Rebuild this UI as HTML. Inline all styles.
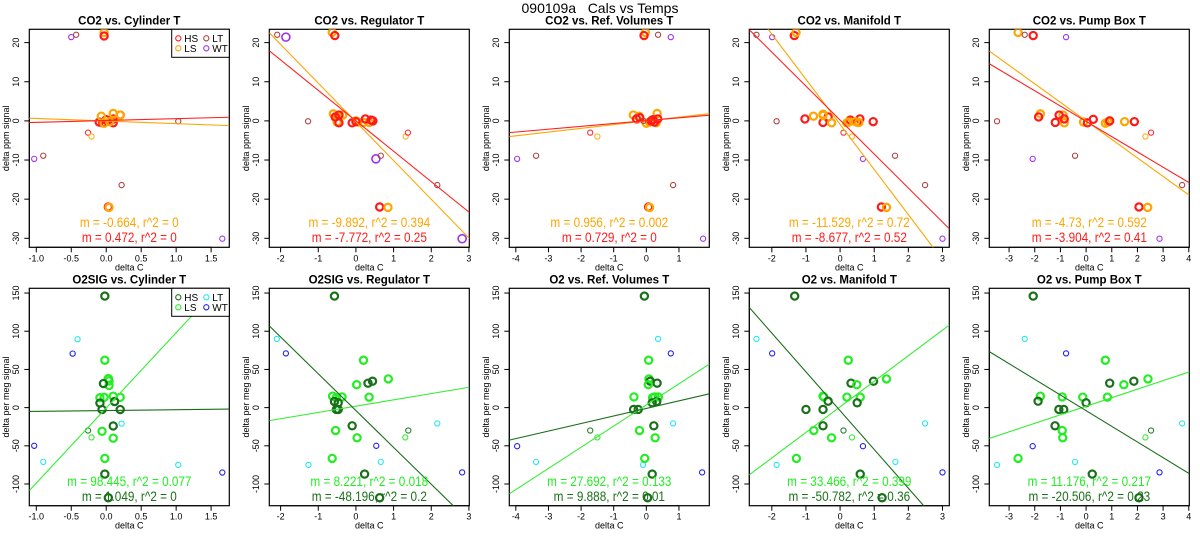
<!DOCTYPE html>
<html><head><meta charset="utf-8"><style>
html,body{margin:0;padding:0;background:#fff}
svg{display:block;font-family:"Liberation Sans",Arial,sans-serif}
</style></head><body>
<svg id="chart" width="1200" height="550" viewBox="0 0 1200 550">
<text x="600" y="13" text-anchor="middle" font-size="14" style="white-space:pre">090109a   Cals vs Temps</text>
</svg>
<script>
// ---- data: [deltaC, signal, group]
const co2Cyl = [[-0.5,21.4,'WT'],[-0.43,22,'LT'],[-0.03,22.6,'LS'],[-0.03,21.7,'HS'],[-0.1,-0.3,'HS'],[0,0.3,'HS'],[0.1,-0.5,'HS'],[0.2,1.5,'HS'],[0.1,0.5,'HS'],[-0.05,-0.5,'HS'],[-0.07,1.2,'LS'],[0.1,1.9,'LS'],[0.2,1.5,'LS'],[0.05,-0.2,'LS'],[-0.03,-0.6,'LS'],[1.03,-0.1,'LT'],[-0.26,-3,'HSs'],[-0.21,-4,'LSs'],[-0.9,-8.9,'LT'],[-1.03,-9.7,'WT'],[0.22,-16.4,'LT'],[0.03,-22,'HS'],[0.04,-22.1,'LS'],[1.66,-30.1,'WT']];
const co2Reg = [[-2.09,22,'LT'],[-1.86,21.4,'WTb'],[-0.63,22.6,'LS'],[-0.56,21.8,'HS'],[-1.27,-0.1,'LT'],[-0.6,1.8,'LS'],[-0.5,1.2,'LS'],[-0.35,1.5,'LS'],[-0.5,-0.3,'LS'],[0.05,-0.3,'LS'],[0.2,-0.4,'LS'],[0.35,-0.4,'LS'],[0,0,'LS'],[-0.55,1,'HS'],[-0.45,1.5,'HS'],[-0.45,-0.5,'HS'],[-0.1,-0.5,'HS'],[0.25,0.5,'HS'],[0.4,0.2,'HS'],[0.45,0,'HS'],[0,-0.2,'HS'],[1.32,-4,'LSs'],[1.38,-3,'HSs'],[0.53,-9.7,'WTb'],[0.66,-8.9,'LT'],[2.16,-16.4,'LT'],[0.63,-22,'HS'],[0.85,-22.1,'LS'],[2.82,-30.1,'WTb']];
const co2Ref = [[-0.03,22.6,'LS'],[-0.07,21.8,'HS'],[0.36,22,'LT'],[0.75,21.4,'WT'],[-0.4,1.5,'LS'],[-0.22,1.2,'LS'],[0.33,1.9,'LS'],[0.1,-0.3,'LS'],[0.3,-0.5,'LS'],[0,-0.6,'LS'],[-0.3,0.5,'HS'],[-0.2,0.8,'HS'],[0.15,0,'HS'],[0.2,0.3,'HS'],[0.35,0.5,'HS'],[0.25,-0.3,'HS'],[-0.09,0,'LT'],[-1.72,-3,'HSs'],[-1.5,-4,'LSs'],[-3.96,-9.7,'WT'],[-3.38,-8.9,'LT'],[0.82,-16.4,'LT'],[0.07,-22,'HS'],[0.1,-22.1,'LS'],[1.74,-30.1,'WT']];
const co2Man = [[-2.45,22,'LT'],[-1.99,21.4,'WT'],[-1.34,21.8,'HS'],[-1.29,22.6,'LS'],[-1.86,-0.1,'LT'],[-1.03,0.5,'HS'],[-0.5,-0.4,'HS'],[-0.35,1,'HS'],[0.3,0.2,'HS'],[0.5,-0.3,'HS'],[0.58,0.5,'HS'],[0.97,-0.2,'HS'],[-0.78,1.2,'LS'],[-0.5,1.7,'LS'],[-0.5,1.4,'LS'],[-0.25,-0.5,'LS'],[0.2,-0.5,'LS'],[0.25,-0.3,'LS'],[0.45,-0.2,'LS'],[0.55,-0.4,'LS'],[0.1,-3,'HSs'],[0.35,-4,'LSs'],[0.67,-9.7,'WT'],[1.61,-8.9,'LT'],[2.49,-16.4,'LT'],[1.21,-22,'HS'],[1.36,-22.1,'LS'],[3.0,-30.1,'WT']];
const co2Pump = [[-2.65,22.6,'LS'],[-2.39,22,'LT'],[-2.06,21.8,'HS'],[-0.78,21.4,'WT'],[-3.47,-0.1,'LT'],[-1.78,1.8,'LS'],[-0.9,1.5,'LS'],[-0.85,-0.5,'LS'],[-0.1,-0.3,'LS'],[0.75,-0.6,'LS'],[0.85,-0.3,'LS'],[1.5,-0.2,'LS'],[-1.85,1,'HS'],[-1.05,1.5,'HS'],[-1.2,-0.4,'HS'],[-0.85,0.5,'HS'],[0.05,-0.5,'HS'],[0.28,0.4,'HS'],[0.92,0,'HS'],[1.88,-0.2,'HS'],[2.31,-4,'LSs'],[2.53,-3,'HSs'],[-2.08,-9.7,'WT'],[-0.43,-8.9,'LT'],[3.74,-16.4,'LT'],[2.06,-22,'HS'],[2.4,-22.1,'LS'],[2.86,-30.1,'WT']];
const o2Cyl = [[-0.02,146,'HS'],[-0.41,89.5,'LT'],[-0.48,70.7,'WT'],[-0.02,62,'LS'],[0.03,38,'LS'],[0.04,35,'LS'],[0.04,29,'LS'],[-0.04,31.5,'HS'],[-0.09,13,'LS'],[-0.03,13.5,'LS'],[0.1,15,'LS'],[0.2,13.5,'LS'],[-0.09,6,'HS'],[0.12,8,'HS'],[-0.06,-2.5,'HS'],[0.2,-2.5,'HS'],[0.1,-24,'HS'],[-0.26,-30,'HSs'],[-0.21,-39,'LSs'],[-0.06,-31,'LS'],[0.1,-40,'LS'],[-1.03,-50,'WT'],[-0.9,-71,'LT'],[0.22,-21,'LT'],[-0.02,-66.5,'LS'],[-0.02,-87,'HS'],[0.03,-118,'HS'],[1.03,-75,'LT'],[1.66,-85,'WT']];
const o2Reg = [[-0.57,146,'HS'],[-2.1,90,'LT'],[-1.86,71,'WT'],[0.2,62,'LS'],[0.86,37.6,'LS'],[0.44,34.6,'HS'],[0.32,32,'HS'],[0.02,30,'LS'],[-0.62,15,'LS'],[-0.52,13,'LS'],[-0.37,14,'LS'],[0.35,13.7,'LS'],[-0.57,8,'HS'],[-0.47,6.3,'HS'],[-0.52,-2.4,'HS'],[-0.47,-2.4,'HS'],[-0.1,-23.8,'HS'],[-0.54,-30,'LS'],[0.03,-39.5,'LS'],[1.39,-30,'HSs'],[1.31,-39,'LSs'],[0.54,-50,'WT'],[0.66,-71,'LT'],[2.16,-20.7,'LT'],[-1.26,-75,'LT'],[-0.63,-66.5,'LS'],[0.23,-87,'HS'],[0.63,-118,'HS'],[2.82,-84.8,'WT']];
const o2Ref = [[-0.06,146,'HS'],[0.36,90,'LT'],[0.75,71,'WT'],[0.07,62,'LS'],[0.08,37.6,'LS'],[0.12,34.6,'HS'],[0.33,32,'HS'],[0.06,30,'LS'],[-0.38,14,'LS'],[0.19,13,'LS'],[0.26,14,'LS'],[0.37,14,'LS'],[0.18,6.3,'HS'],[0.32,8,'HS'],[-0.39,-2.4,'HS'],[-0.25,-2.4,'HS'],[0.23,-23.8,'HS'],[-0.21,-30,'LS'],[0.27,-39.5,'LS'],[-1.72,-30,'HSs'],[-1.5,-39,'LSs'],[-3.96,-50.5,'WT'],[-3.38,-71,'LT'],[0.82,-20.7,'LT'],[-0.1,-75,'LT'],[-0.05,-66.5,'LS'],[0.18,-87,'HS'],[0.04,-118,'HS'],[1.71,-84.8,'WT']];
const o2Man = [[-1.33,146,'HS'],[-2.45,90,'LT'],[-1.99,71,'WT'],[0.24,62,'LS'],[1.36,37.6,'LS'],[0.98,34.6,'HS'],[0.32,32,'HS'],[0.49,30,'LS'],[-0.5,15,'LS'],[-0.48,14,'LS'],[0.2,13.7,'LS'],[0.59,13.7,'LS'],[-0.35,8.4,'HS'],[0.5,6.3,'HS'],[-1.0,-2.4,'HS'],[-0.5,-2.4,'HS'],[-0.5,-23.8,'HS'],[-0.77,-30,'LS'],[-0.25,-39.5,'LS'],[0.1,-30,'HSs'],[0.35,-39,'LSs'],[0.67,-50.5,'WT'],[1.62,-71,'LT'],[2.49,-20.7,'LT'],[-1.86,-75,'LT'],[-1.28,-66.5,'LS'],[0.59,-87,'HS'],[1.23,-118,'HS'],[3.0,-84.8,'WT']];
const o2Pump = [[-2.06,146,'HS'],[-2.39,90,'LT'],[-0.78,71,'WT'],[0.75,62,'LS'],[2.41,37.6,'LS'],[1.86,34.6,'HS'],[0.92,32,'HS'],[1.47,30,'LS'],[-1.78,15,'LS'],[-0.93,14,'LS'],[-0.13,13.7,'LS'],[0.83,13.7,'LS'],[-1.87,8.4,'HS'],[0,6.3,'HS'],[-1.06,-2.4,'HS'],[-0.87,-2.4,'HS'],[-1.21,-23.8,'HS'],[-0.93,-30,'LS'],[-0.91,-39.5,'LS'],[2.53,-30,'HSs'],[2.31,-39,'LSs'],[-2.08,-50.5,'WT'],[-0.43,-71,'LT'],[3.74,-20.7,'LT'],[-3.47,-75,'LT'],[-2.65,-66.5,'LS'],[0.24,-87,'HS'],[2.06,-118,'HS'],[2.86,-84.8,'WT']];
// regression fits: [slopeLS, interceptLS, slopeHS, interceptHS]
const fitsCO2 = [[-0.664,-0.04,0.472,0.1],[-9.892,-0.25,-7.772,0.02],[0.956,0.0,0.729,0.06],[-11.529,-0.9,-8.677,0.2],[-4.73,0.0,-3.904,-0.12]];
const fitsO2 = [[98.445,-0.4,1.049,-3.8],[8.221,1.9,-48.196,-3.9],[27.692,3.5,9.888,-1],[33.466,1,-50.782,-4],[11.176,1.8,-20.506,-4]];
const labelsCO2 = [['m = -0.664, r^2 = 0','m = 0.472, r^2 = 0'],['m = -9.892, r^2 = 0.394','m = -7.772, r^2 = 0.25'],['m = 0.956, r^2 = 0.002','m = 0.729, r^2 = 0'],['m = -11.529, r^2 = 0.72','m = -8.677, r^2 = 0.52'],['m = -4.73, r^2 = 0.592','m = -3.904, r^2 = 0.41']];
const labelsO2 = [['m = 98.445, r^2 = 0.077','m = 1.049, r^2 = 0'],['m = 8.221, r^2 = 0.018','m = -48.196, r^2 = 0.2'],['m = 27.692, r^2 = 0.133','m = 9.888, r^2 = 0.01'],['m = 33.466, r^2 = 0.399','m = -50.782, r^2 = 0.36'],['m = 11.176, r^2 = 0.217','m = -20.506, r^2 = 0.23']];
const titlesCO2 = ['CO2 vs. Cylinder T','CO2 vs. Regulator T','CO2 vs. Ref. Volumes T','CO2 vs. Manifold T','CO2 vs. Pump Box T'];
const titlesO2 = ['O2SIG vs. Cylinder T','O2SIG vs. Regulator T','O2 vs. Ref. Volumes T','O2 vs. Manifold T','O2 vs. Pump Box T'];
const xDomains = [[-1.1,1.76],[-2.3,3.01],[-4.2,1.93],[-2.66,3.2],[-3.77,4.02]];
const xTicks = [[-1,-0.5,0,0.5,1,1.5],[-2,-1,0,1,2,3],[-4,-3,-2,-1,0,1],[-2,-1,0,1,2,3],[-3,-2,-1,0,1,2,3,4]];
const xTickText = [['-1.0','-0.5','0.0','0.5','1.0','1.5'],['-2','-1','0','1','2','3'],['-4','-3','-2','-1','0','1'],['-2','-1','0','1','2','3'],['-3','-2','-1','0','1','2','3','4']];
const yDomCO2 = [-32.3,23.4], yTicksCO2 = [-30,-20,-10,0,10,20];
const yDomO2 = [-128.4,156.2], yTicksO2 = [-100,-50,0,50,100,150];

const NS='http://www.w3.org/2000/svg';
const svg=document.getElementById('chart');
function mk(tag,attrs,parent){const e=document.createElementNS(NS,tag);for(const k in attrs)e.setAttribute(k,attrs[k]);(parent||svg).appendChild(e);return e;}

const CO2C={HS:'#ff1a1a',LS:'#ffa500',HSs:'#ff3030',LSs:'#ffb020',LT:'#b04040',WT:'#a030f0',WTb:'#a030f0'};
const O2C={HS:'#1a701a',LS:'#22ee22',HSs:'#2a802a',LSs:'#33ee33',LT:'#22e8ee',WT:'#2020ee',WTb:'#2020ee'};

function panel(col,row,pts,fit,labels,title,yDom,yTicks,colors,lineCols,ylab){
  const off=col*240;
  const L=off+29.3,R=off+229.3;
  const T=row===0?29.3:288.3,B=row===0?247.3:505.7;
  const xd=xDomains[col];
  const sx=v=>L+(v-xd[0])/(xd[1]-xd[0])*(R-L);
  const sy=v=>B-(v-yDom[0])/(yDom[1]-yDom[0])*(B-T);
  const g=mk('g',{});
  
  
  const cid='clip'+row+col;
  const cp=mk('clipPath',{id:cid},g);mk('rect',{x:L,y:T,width:R-L,height:B-T},cp);
  const t=mk('text',{x:(L+R)/2,y:T-5,'text-anchor':'middle','font-size':11.5,'font-weight':'bold'},g);t.textContent=title;
  
  const xa=mk('g',{},g);
  const xt=xTicks[col];
  mk('line',{x1:sx(xt[0]),x2:sx(xt[xt.length-1]),y1:B,y2:B,stroke:'#000','stroke-width':1},xa);
  xt.forEach((v,i)=>{mk('line',{x1:sx(v),x2:sx(v),y1:B,y2:B+5,stroke:'#000'},xa);
    const tt=mk('text',{x:sx(v),y:B+14,'text-anchor':'middle','font-size':9},xa);tt.textContent=xTickText[col][i];});
  const xl=mk('text',{x:(L+R)/2,y:B+23,'text-anchor':'middle','font-size':9},g);xl.textContent='delta C';
  
  const ya=mk('g',{},g);
  mk('line',{x1:L,x2:L,y1:sy(yTicks[0]),y2:sy(yTicks[yTicks.length-1]),stroke:'#000'},ya);
  yTicks.forEach(v=>{mk('line',{x1:L-5,x2:L,y1:sy(v),y2:sy(v),stroke:'#000'},ya);
    const tt=mk('text',{x:0,y:0,'text-anchor':'middle','font-size':9,transform:`translate(${off+19},${sy(v)}) rotate(-90)`},ya);tt.textContent=String(v);});
  const yl=mk('text',{x:0,y:0,'text-anchor':'middle','font-size':9,transform:`translate(${off+9},${(T+B)/2}) rotate(-90)`},g);yl.textContent=ylab;
  
  mk('rect',{x:L,y:T,width:R-L,height:B-T,fill:'none',stroke:'#000','stroke-width':1.2},g);
  const pg=mk('g',{'clip-path':`url(#${cid})`},g);
  pts.forEach(p=>{const k=p[2];const thick=(k==='HS'||k==='LS');const big=k==='WTb';
    const c=mk('circle',{cx:sx(p[0]),cy:sy(p[1]),r:thick?3.6:(big?4:2.6),fill:'none',stroke:colors[k],'stroke-width':thick?2.2:(big?1.6:1.1)},pg);
    
    });
  [[fit[0],fit[1],lineCols[0]],[fit[2],fit[3],lineCols[1]]].forEach((f,i)=>{
    const ln=mk('line',{x1:sx(xd[0]),y1:sy(f[0]*xd[0]+f[1]),x2:sx(xd[1]),y2:sy(f[0]*xd[1]+f[1]),stroke:f[2],'stroke-width':1.1},pg);
    
    });
  const ya1=row===0?227:486, ya2=row===0?242:501;
  const a1=mk('text',{x:0,y:0,'text-anchor':'middle','font-size':14,fill:lineCols[2],transform:`translate(${(L+R)/2},${ya1}) scale(0.84,1)`},g);a1.textContent=labels[0];
  
  const a2=mk('text',{x:0,y:0,'text-anchor':'middle','font-size':14,fill:lineCols[3],transform:`translate(${(L+R)/2},${ya2}) scale(0.84,1)`},g);a2.textContent=labels[1];
  
  if(col===0){
    const lg=mk('g',{},g);
    mk('rect',{x:R-57.6,y:T,width:57.6,height:28,fill:'#fff',stroke:'#000','stroke-width':1},lg);
    [['HS',0,0],['LS',0,1],['LT',1,0],['WT',1,1]].forEach(e=>{
      const ex=R-51+e[1]*28,ey=T+9+e[2]*10;
      mk('circle',{cx:ex,cy:ey,r:2.6,fill:'none',stroke:colors[e[0]],'stroke-width':1.1},lg);
      const tt=mk('text',{x:ex+6,y:ey+3.5,'font-size':10},lg);tt.textContent=e[0];
      
    });
  }
}
const co2Sets=[co2Cyl,co2Reg,co2Ref,co2Man,co2Pump];
const o2Sets=[o2Cyl,o2Reg,o2Ref,o2Man,o2Pump];
for(let i=0;i<5;i++){
  panel(i,0,co2Sets[i],fitsCO2[i],labelsCO2[i],titlesCO2[i],yDomCO2,yTicksCO2,CO2C,['#ffa500','#ff2020','#ffa500','#ff1a1a'],'delta ppm signal');
  panel(i,1,o2Sets[i],fitsO2[i],labelsO2[i],titlesO2[i],yDomO2,yTicksO2,O2C,['#33ee33','#1a6e1a','#22ee22','#1a701a'],'delta per meg signal');
}
</script>
</body></html>
